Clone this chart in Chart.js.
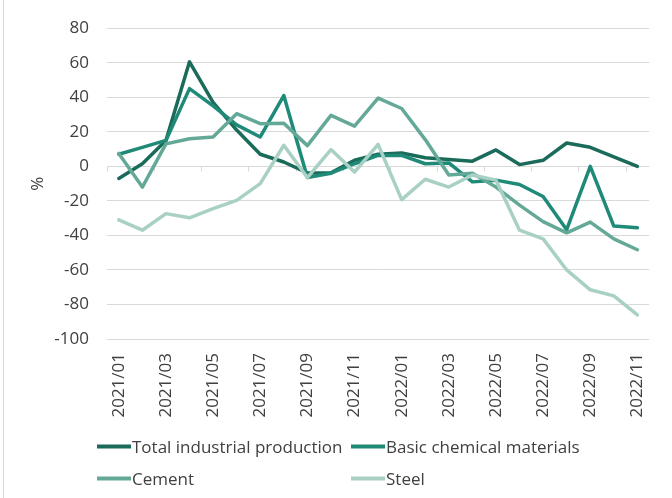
<!DOCTYPE html>
<html>
<head>
<meta charset="utf-8">
<script src="https://cdn.jsdelivr.net/npm/chart.js@4/dist/chart.umd.min.js"></script>
<style>
  html, body { margin: 0; padding: 0; background: #ffffff; }
  #wrap { position: relative; width: 672px; height: 498px; overflow: hidden; }
  #frame { position: absolute; left: 3px; top: 0; width: 1px; height: 498px; background: #d9d9d9; }
  #chart { position: absolute; left: 0; top: 0; }
  #legend { position: absolute; left: 0; top: 0; width: 672px; height: 498px; pointer-events: none;
            font-family: "Open Sans", sans-serif; font-size: 17px; color: #404040; }
  .item { position: absolute; display: flex; align-items: center; white-space: nowrap; transform: translateY(-50%); }
  .swatch { display: inline-block; width: 34px; height: 4px; margin-right: 1px; }
</style>
</head>
<body>
<div id="wrap">
  <div id="frame"></div>
  <canvas id="chart" width="672" height="498"></canvas>
  <div id="legend"></div>
</div>
<script>
// Year-on-year change, %, by month
const months = [
  '2021/01', '2021/02', '2021/03', '2021/04', '2021/05', '2021/06',
  '2021/07', '2021/08', '2021/09', '2021/10', '2021/11', '2021/12',
  '2022/01', '2022/02', '2022/03', '2022/04', '2022/05', '2022/06',
  '2022/07', '2022/08', '2022/09', '2022/10', '2022/11'
];
const totalIndustrial = [-7, 1.5, 15, 60.5, 37, 21, 7, 2.5, -3.8, -3.8, 3.5, 7, 7.7, 5, 4, 3, 9.5, 1, 3.5, 13.5, 11, 5.5, 0];
const basicChemicals  = [7, 11, 15, 45, 35, 24, 17, 41, -6.5, -4, 1.5, 6.3, 6.3, 1.5, 2, -9, -8, -10.5, -17.5, -36.7, 0, -34.6, -35.5];
const cement          = [7.5, -12, 13, 16, 17, 30.5, 24.7, 25, 12, 29.5, 23.3, 39.5, 33.5, 15.5, -5, -4, -12, -22.5, -32, -38.5, -32.3, -42, -48.3];
const steel           = [-31, -37, -27.4, -29.8, -24.5, -19.7, -10, 12.2, -6.5, 9.7, -3.3, 12.7, -19.3, -7.5, -12, -5, -8, -37, -42, -60, -71.5, -75, -86];

const seriesNames  = ['Total industrial production', 'Basic chemical materials', 'Cement', 'Steel'];
const seriesData   = [totalIndustrial, basicChemicals, cement, steel];
const seriesColors = ['#1b6b5a', '#1f8a77', '#64a997', '#a9d0c5'];

const yTicks = { min: -100, max: 80, step: 20 };

const FONT = { family: '"Open Sans", sans-serif', size: 17 };
const TEXT = '#404040';
const GRID = '#d9d9d9';

// Small tick marks hanging below the zero line, one every two months
const zeroLineTicks = {
  id: 'zeroLineTicks',
  beforeDatasetsDraw(chart) {
    const { ctx, scales: { x, y } } = chart;
    const y0 = Math.round(y.getPixelForValue(0)) + 0.5;
    const half = (x.getPixelForValue(1) - x.getPixelForValue(0)) / 2;
    ctx.save();
    ctx.strokeStyle = GRID;
    ctx.lineWidth = 1;
    ctx.beginPath();
    for (let i = 0; i < months.length; i += 2) {
      const px = Math.round(x.getPixelForValue(i) - half) + 0.5;
      ctx.moveTo(px, y0);
      ctx.lineTo(px, y0 + 5);
    }
    ctx.stroke();
    ctx.restore();
  }
};

const chart = new Chart(document.getElementById('chart'), {
  type: 'line',
  data: {
    labels: months,
    datasets: seriesNames.map((name, i) => ({
      label: name,
      data: seriesData[i],
      borderColor: seriesColors[i],
      backgroundColor: seriesColors[i],
      borderWidth: 3.5,
      pointRadius: 0,
      tension: 0,
      fill: false,
      borderJoinStyle: 'round',
      borderCapStyle: 'round',
      order: seriesNames.length - i
    }))
  },
  options: {
    responsive: false,
    animation: false,
    devicePixelRatio: 1,
    layout: { padding: { top: 28, right: 9, bottom: 0, left: 0 } },
    plugins: {
      legend: { display: false },
      tooltip: { enabled: false }
    },
    scales: {
      x: {
        offset: true,
        grid: { display: false, drawTicks: false },
        border: { display: false },
        ticks: {
          autoSkip: false,
          minRotation: 90,
          maxRotation: 90,
          padding: 14,
          font: FONT,
          color: TEXT,
          callback: (v, idx) => (idx % 2 === 0 ? months[idx] : '')
        },
        afterFit: (scale) => { scale.height = 159; }
      },
      y: {
        min: yTicks.min,
        max: yTicks.max,
        grid: { color: GRID, lineWidth: 1, drawTicks: false },
        border: { display: false },
        ticks: { stepSize: yTicks.step, padding: 18, font: FONT, color: TEXT },
        title: {
          display: true,
          text: '%',
          font: FONT,
          color: TEXT,
          padding: { top: 28, bottom: 0 }
        },
        afterFit: (scale) => { scale.width = 107; }
      }
    }
  },
  plugins: [zeroLineTicks]
});

// Legend laid out in two columns under the axis labels
const legendEl = document.getElementById('legend');
const legendCols = [97, 351];
const legendRows = [446, 478];
chart.data.datasets.forEach((ds, i) => {
  const item = document.createElement('div');
  item.className = 'item';
  item.style.left = legendCols[i % 2] + 'px';
  item.style.top = legendRows[Math.floor(i / 2)] + 'px';
  const sw = document.createElement('span');
  sw.className = 'swatch';
  sw.style.background = ds.borderColor;
  const label = document.createElement('span');
  label.textContent = ds.label;
  item.appendChild(sw);
  item.appendChild(label);
  legendEl.appendChild(item);
});
</script>
</body>
</html>
